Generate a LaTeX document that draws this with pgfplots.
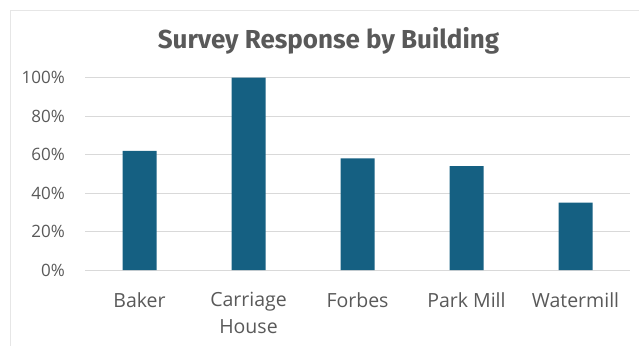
\documentclass[border=0pt]{standalone}
\usepackage{pgfplots}
\pgfplotsset{compat=1.18}
\usepackage{fontspec}
\setmainfont{Open Sans}
\newfontfamily\titlefont{Fira Sans}
\definecolor{barblue}{HTML}{156082}
\definecolor{txtgray}{HTML}{595959}
\definecolor{gridgray}{HTML}{D9D9D9}
\definecolor{framegray}{HTML}{E6E6E6}
\begin{document}
\begin{tikzpicture}[x=1pt,y=1pt]
\useasboundingbox (0,0) rectangle (639,346);
\draw[framegray, line width=0.8pt] (10.5,0) -- (10.5,336) -- (639,336);
\node[anchor=base, text=txtgray, font=\titlefont\fontsize{26}{30}\selectfont\bfseries, inner sep=0pt] at (328.5,297.7) {Survey Response by Building};
\begin{axis}[
  at={(85pt,76pt)}, anchor=south west,
  scale only axis, width=545pt, height=192.3pt,
  xmin=-0.5, xmax=4.5, ymin=0, ymax=100,
  enlargelimits=false, clip=false,
  axis line style={draw=none},
  major tick length=0pt,
  ytick={0,20,40,60,80,100},
  yticklabels={0\%,20\%,40\%,60\%,80\%,100\%},
  ymajorgrids, grid style={gridgray, line width=0.8pt},
  xtick={0,1,2,3,4},
  xticklabels={Baker,{Carriage\\House},Forbes,Park Mill,Watermill},
  yticklabel style={font=\fontsize{17}{20}\selectfont, text=txtgray, anchor=east, inner sep=0pt, xshift=-20pt},
  xticklabel style={font=\fontsize{19.5}{26.7}\selectfont, text=txtgray, align=center, anchor=north, inner sep=0pt, yshift=-22pt},
]
\addplot[ybar, bar width=34pt, fill=barblue, draw=none] coordinates {(0,62) (1,100) (2,58) (3,54) (4,35)};
\end{axis}
\end{tikzpicture}
\end{document}
